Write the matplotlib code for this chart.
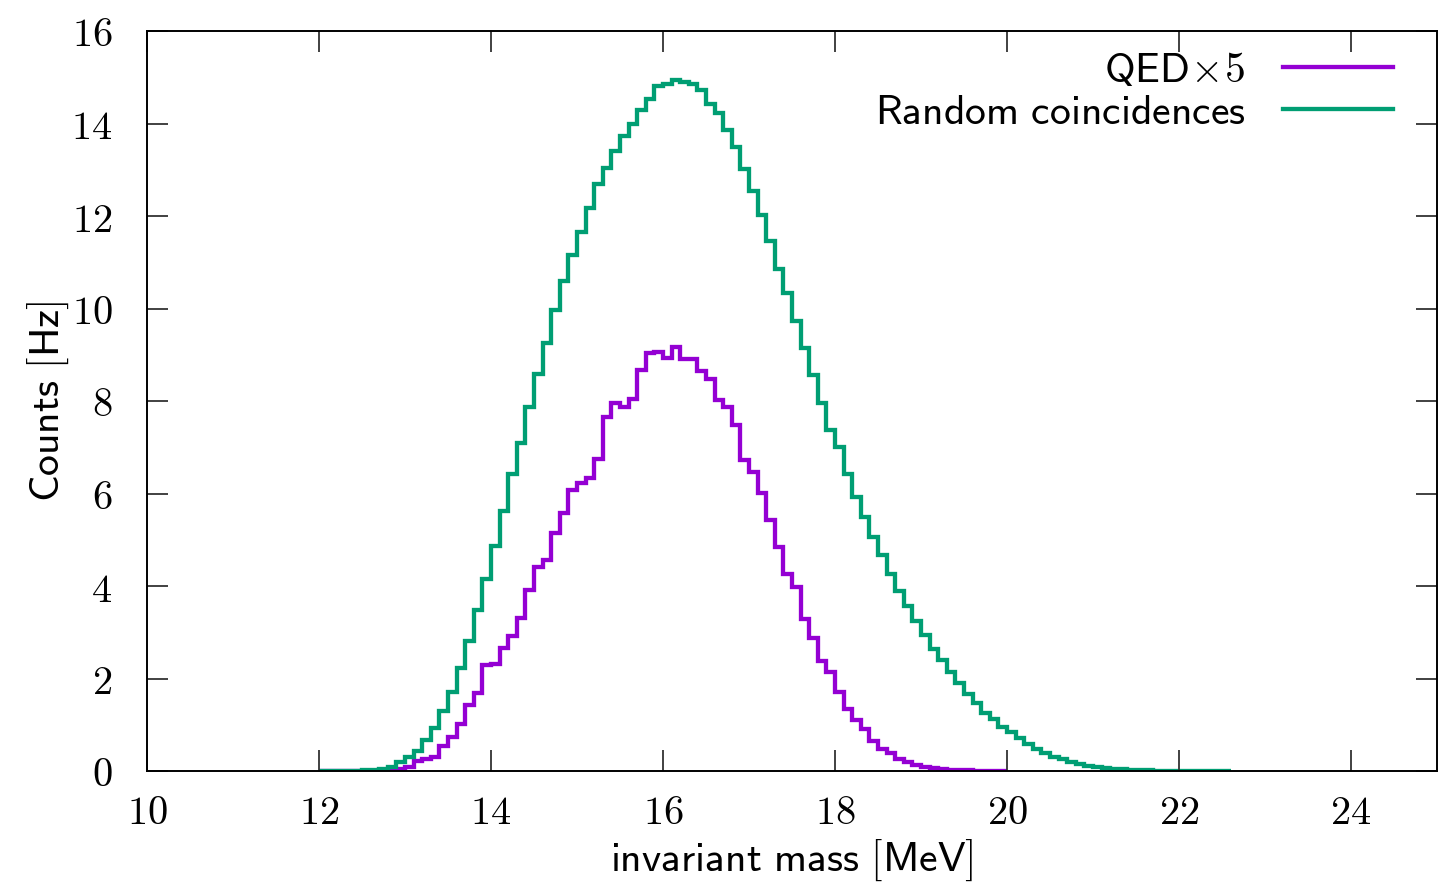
import numpy as np
import matplotlib
matplotlib.use("Agg")
import matplotlib.pyplot as plt

# Histogram data (bin width 0.1 MeV)
bin_width = 0.1
random_start = 12.0
random_counts = [
    0.0, 0.0, 0.0, 0.005, 0.01, 0.015, 0.02, 0.05, 0.09, 0.19,
    0.31, 0.44, 0.67, 0.93, 1.29, 1.71, 2.22, 2.81, 3.48, 4.15,
    4.86, 5.63, 6.42, 7.10, 7.88, 8.58, 9.25, 9.97, 10.60, 11.16,
    11.66, 12.17, 12.69, 13.03, 13.41, 13.73, 14.00, 14.29, 14.52, 14.81,
    14.85, 14.95, 14.90, 14.85, 14.72, 14.43, 14.23, 13.87, 13.50, 13.02,
    12.55, 12.02, 11.47, 10.85, 10.34, 9.72, 9.14, 8.56, 7.96, 7.37,
    7.01, 6.42, 5.93, 5.50, 5.07, 4.67, 4.25, 3.90, 3.56, 3.25,
    2.95, 2.64, 2.40, 2.13, 1.90, 1.66, 1.48, 1.26, 1.12, 0.96,
    0.84, 0.72, 0.59, 0.48, 0.39, 0.31, 0.25, 0.19, 0.15, 0.11,
    0.09, 0.07, 0.05, 0.04, 0.03, 0.02, 0.015, 0.01, 0.01, 0.005,
    0.005, 0.003, 0.002, 0.001, 0.001, 0.0,
]
qed_start = 12.0
qed_counts = [
    0.0, 0.0, 0.0, 0.0, 0.0, 0.0, 0.003, 0.005, 0.01, 0.04,
    0.08, 0.21, 0.27, 0.30, 0.53, 0.73, 1.01, 1.43, 1.68, 2.30,
    2.31, 2.67, 2.92, 3.31, 3.91, 4.42, 4.56, 5.15, 5.57, 6.08,
    6.22, 6.33, 6.74, 7.65, 7.96, 7.88, 8.04, 8.67, 9.03, 9.05,
    8.94, 9.17, 8.91, 8.91, 8.65, 8.47, 8.02, 7.88, 7.48, 6.72,
    6.47, 6.01, 5.43, 4.84, 4.27, 3.98, 3.28, 2.87, 2.38, 2.13,
    1.70, 1.34, 1.11, 0.91, 0.65, 0.47, 0.38, 0.25, 0.20, 0.13,
    0.09, 0.06, 0.04, 0.03, 0.02, 0.015, 0.01, 0.005, 0.003, 0.002,
]
series_labels = [r"$\mathsf{QED}\!\times\!\mathsf{5}$", r"$\mathsf{Random\ coincidences}$"]
x_ticks = [10, 12, 14, 16, 18, 20, 22, 24]
y_ticks = [0, 2, 4, 6, 8, 10, 12, 14, 16]

plt.rcParams["mathtext.fontset"] = "cm"

fig = plt.figure(figsize=(14.5, 8.82), dpi=100)
ax = fig.add_axes([147 / 1450, 1 - 771 / 882, (1437 - 147) / 1450, (771 - 31) / 882])

qed_edges = qed_start + bin_width * np.arange(len(qed_counts) + 1)
rnd_edges = random_start + bin_width * np.arange(len(random_counts) + 1)

ax.stairs(qed_counts, qed_edges, color="#9400D3", lw=3.1, label=series_labels[0],
          baseline=None)
ax.stairs(random_counts, rnd_edges, color="#009E73", lw=3.1, label=series_labels[1],
          baseline=None)

ax.set_xlim(10, 25)
ax.set_ylim(0, 16)
ax.set_xticks(x_ticks)
ax.set_yticks(y_ticks)
ax.set_xticklabels([rf"${t}$" for t in x_ticks])
ax.set_yticklabels([rf"${t}$" for t in y_ticks])
ax.tick_params(direction="in", length=15, width=1.3, color="#333333",
               top=True, right=True, labelsize=29)
ax.tick_params(axis="x", pad=16)
ax.tick_params(axis="y", pad=25)
for s in ax.spines.values():
    s.set_linewidth(1.4)

ax.set_xlabel(r"$\mathsf{invariant\ mass\ [MeV]}$", fontsize=30, labelpad=3)
ax.set_ylabel(r"$\mathsf{Counts\ [Hz]}$", fontsize=30, labelpad=0)

ax.legend(loc="upper right", frameon=False, markerfirst=False, fontsize=30,
          handlelength=2.64, handletextpad=0.9, labelspacing=0.0,
          borderaxespad=0.0, borderpad=0.0,
          bbox_to_anchor=((1393 - 147) / 1290, (771 - 49) / 740))

fig.savefig("out.png", dpi=100)
